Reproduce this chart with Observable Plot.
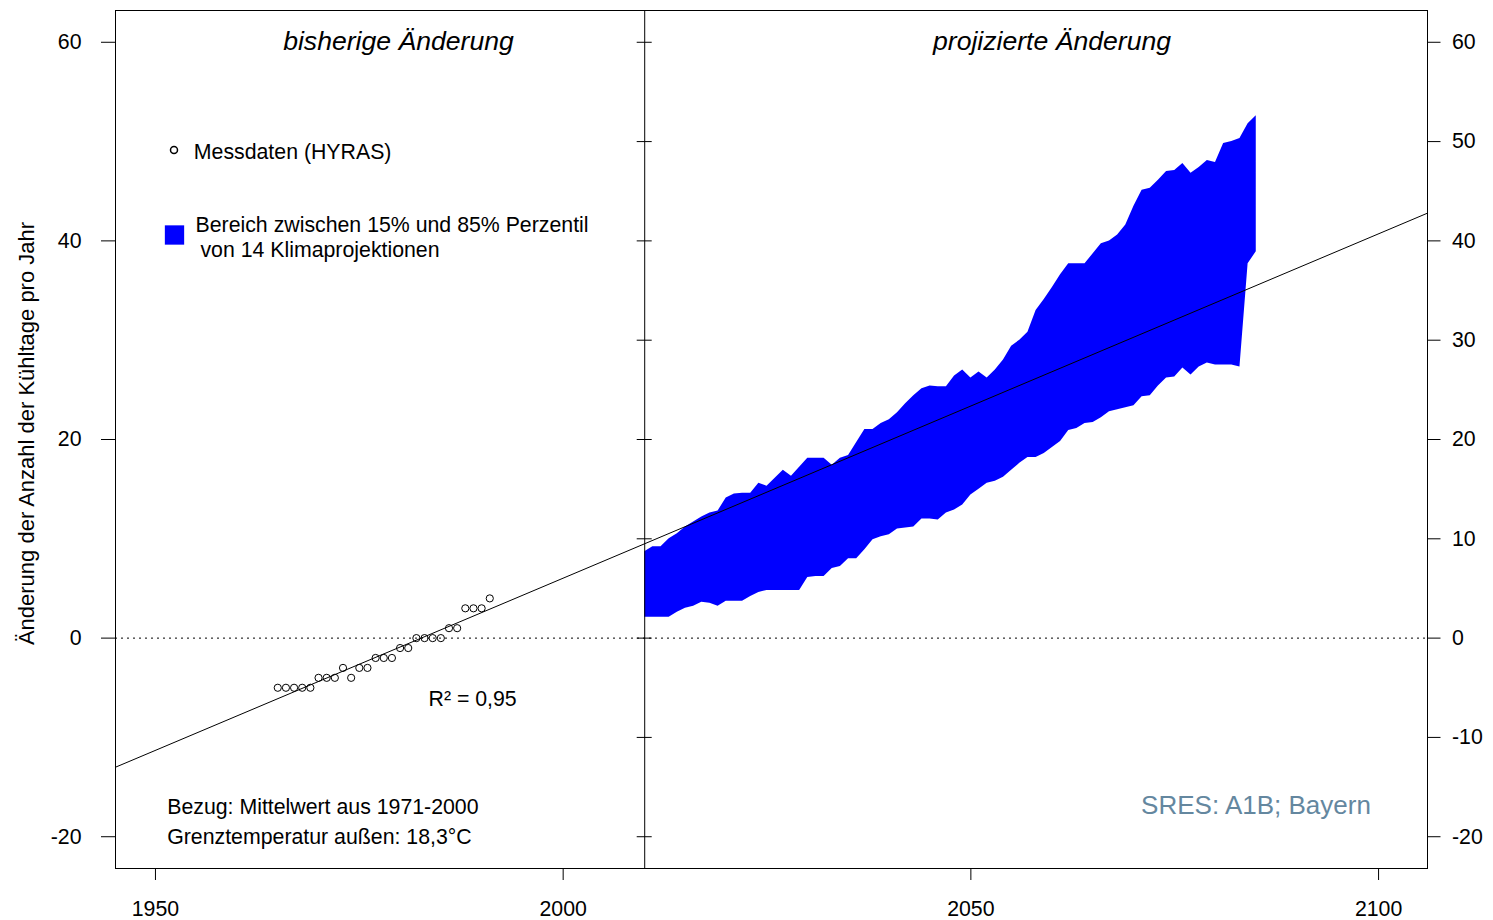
<!DOCTYPE html>
<html>
<head>
<meta charset="utf-8">
<script src="https://cdn.jsdelivr.net/npm/d3@7"></script>
<script src="https://cdn.jsdelivr.net/npm/@observablehq/plot@0.6"></script>
<style>
html, body { margin: 0; padding: 0; background: #fff; }
#chart { width: 1493px; height: 920px; }
</style>
</head>
<body>
<div id="chart"></div>
<script>
// ---------- data ----------
const obsYears = [1965,1966,1967,1968,1969,1970,1971,1972,1973,1974,1975,1976,1977,1978,1979,1980,1981,1982,1983,1984,1985,1986,1987,1988,1989,1990,1991];
const obsValues = [-5,-5,-5,-5,-5,-4,-4,-4,-3,-4,-3,-3,-2,-2,-2,-1,-1,0,0,0,0,1,1,3,3,3,4];

const projYears = [2010,2011,2012,2013,2014,2015,2016,2017,2018,2019,
  2020,2021,2022,2023,2024,2025,2026,2027,2028,2029,
  2030,2031,2032,2033,2034,2035,2036,2037,2038,2039,
  2040,2041,2042,2043,2044,2045,2046,2047,2048,2049,
  2050,2051,2052,2053,2054,2055,2056,2057,2058,2059,
  2060,2061,2062,2063,2064,2065,2066,2067,2068,2069,
  2070,2071,2072,2073,2074,2075,2076,2077,2078,2079,
  2080,2081,2082,2083,2084,2085];
const projLower = [2.1,2.1,2.1,2.1,2.6,3.0,3.2,3.6,3.5,3.2,
  3.7,3.7,3.7,4.2,4.6,4.8,4.8,4.8,4.8,4.8,
  6.1,6.2,6.2,7.0,7.2,8.0,8.0,8.9,9.9,10.2,
  10.4,11.0,11.1,11.2,12.0,12.0,11.9,12.6,12.9,13.4,
  14.4,15.0,15.6,15.8,16.2,16.9,17.6,18.2,18.2,18.6,
  19.2,19.8,20.9,21.1,21.6,21.7,22.2,22.8,23.0,23.2,
  23.4,24.3,24.4,25.4,26.2,26.3,27.2,26.5,27.3,27.7,
  27.5,27.5,27.5,27.3,37.7,38.9];
const projUpper = [8.7,9.2,9.2,10.0,10.5,11.2,11.7,12.2,12.6,12.8,
  14.1,14.5,14.6,14.6,15.6,15.3,16.1,16.9,16.3,17.2,
  18.1,18.1,18.1,17.4,18.1,18.4,19.7,21.0,21.0,21.6,
  22.0,22.7,23.6,24.4,25.1,25.4,25.3,25.3,26.4,27.0,
  26.2,26.8,26.2,27.0,28.0,29.4,30.0,30.8,33.0,34.1,
  35.3,36.6,37.7,37.7,37.7,38.7,39.7,40.0,40.6,41.6,
  43.5,45.1,45.3,46.1,47.0,47.1,47.8,46.8,47.4,48.1,
  47.9,49.8,50.0,50.3,51.8,52.6];

const xDomain = [1945.1, 2106];
const yDomain = [-23.2, 63.2];
const xTicks = [1950, 2000, 2050, 2100];
const yTicksLeft = [-20, 0, 20, 40, 60];
const yTicksRight = [-20, -10, 0, 10, 20, 30, 40, 50, 60];
const splitYear = 2010;

const titleLeft = "bisherige Änderung";
const titleRight = "projizierte Änderung";
const yLabel = "Änderung der Anzahl der Kühltage pro Jahr";
const legendObs = "Messdaten (HYRAS)";
const legendBand = ["Bereich zwischen 15% und 85% Perzentil", " von 14 Klimaprojektionen"];
const noteLines = ["Bezug: Mittelwert aus 1971-2000", "Grenztemperatur außen: 18,3°C"];
const scenario = "SRES: A1B; Bayern";

// ---------- derived ----------
const obs = obsYears.map((year, i) => ({year, value: obsValues[i]}));
const proj = projYears.map((year, i) => ({year, lo: projLower[i], hi: projUpper[i]}));
const mx = d3.mean(obsYears), my = d3.mean(obsValues);
const sxy = d3.sum(obs, d => (d.year - mx) * (d.value - my));
const sxx = d3.sum(obs, d => (d.year - mx) ** 2);
const syy = d3.sum(obs, d => (d.value - my) ** 2);
const slope = sxy / sxx, intercept = my - slope * mx;
const r2 = (sxy * sxy) / (sxx * syy);
const fit = xDomain.map(year => ({year, value: intercept + slope * year}));
const r2Label = "R² = " + r2.toFixed(2).replace(".", ",");

const FS = 21.3;
const txt = (s, o) => Plot.text([s], {text: d => d, frameAnchor: "top-left", textAnchor: "start", lineAnchor: "bottom", fontSize: FS, fill: "#000", ...o});

const chart = Plot.plot({
  width: 1493,
  height: 920,
  marginLeft: 115,
  marginRight: 66,
  marginTop: 10,
  marginBottom: 52,
  style: {fontFamily: "'Liberation Sans', Arial, sans-serif", fontSize: FS + "px", color: "#000", background: "#fff"},
  x: {domain: xDomain},
  y: {domain: yDomain},
  marks: [
    Plot.areaY(proj, {x: "year", y1: "lo", y2: "hi", fill: "#0000ff", curve: "linear"}),
    Plot.ruleY([0], {stroke: "#000", strokeWidth: 1, strokeDasharray: "2,4"}),
    Plot.ruleX([splitYear], {stroke: "#000", strokeWidth: 1}),
    Plot.ruleY(yTicksRight, {y: d => d, x1: splitYear, x2: splitYear, insetLeft: -7.5, insetRight: -7.5, stroke: "#000"}),
    Plot.line(fit, {x: "year", y: "value", stroke: "#000", strokeWidth: 1}),
    Plot.dot(obs, {x: "year", y: "value", r: 3.6, stroke: "#000", strokeWidth: 1, fill: "none"}),
    Plot.frame({stroke: "#000", strokeWidth: 1}),
    Plot.axisX({ticks: xTicks, tickSize: 12, tickPadding: 20, tickFormat: d => String(d), fontSize: FS, label: null}),
    Plot.axisY({anchor: "left", ticks: yTicksLeft, tickSize: 14, tickPadding: 20, tickFormat: d => String(d), fontSize: FS, label: null}),
    Plot.axisY({anchor: "right", ticks: yTicksRight, tickSize: 12.5, tickPadding: 12, tickFormat: d => String(d), fontSize: FS, label: null}),
    // titles
    txt(titleLeft, {textAnchor: "middle", dx: 283, dy: 39.5, fontStyle: "italic", fontSize: 26.6}),
    txt(titleRight, {textAnchor: "middle", dx: 936.5, dy: 39.5, fontStyle: "italic", fontSize: 26.6}),
    // y label
    Plot.text([yLabel], {text: d => d, frameAnchor: "left", rotate: -90, textAnchor: "middle", lineAnchor: "bottom", dx: -82, dy: -6, fontSize: 22, fill: "#000"}),
    // legend
    Plot.dot([legendObs], {frameAnchor: "top-left", dx: 58.5, dy: 139.5, r: 3.5, stroke: "#000", fill: "none"}),
    txt(legendObs, {dx: 78.3, dy: 148}),
    Plot.dot([legendBand[0]], {frameAnchor: "top-left", dx: 59, dy: 224.5, r: 10.9, symbol: "square", fill: "#0000ff", stroke: "none"}),
    txt(legendBand[0], {dx: 80, dy: 221.7}),
    txt(legendBand[1], {dx: 79, dy: 246.7}),
    // notes
    txt(r2Label, {dx: 313, dy: 695}),
    txt(noteLines[0], {dx: 51.7, dy: 803.3}),
    txt(noteLines[1], {dx: 51.7, dy: 833.3}),
    txt(scenario, {textAnchor: "middle", dx: 1140.5, dy: 803, fontSize: 26, fill: "#64879f"})
  ]
});
document.getElementById("chart").appendChild(chart);
</script>
</body>
</html>
